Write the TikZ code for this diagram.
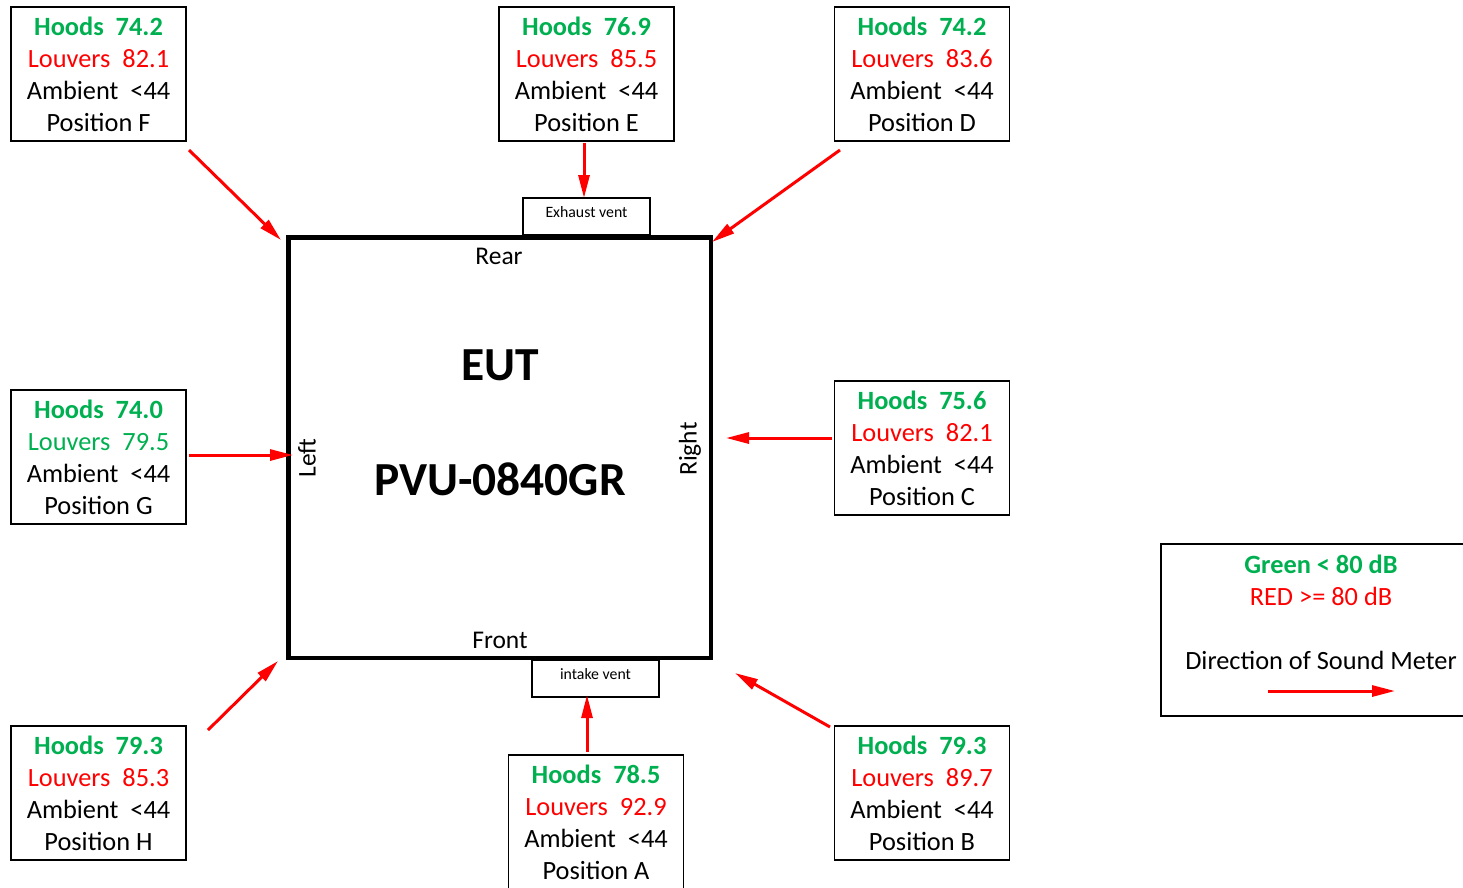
\documentclass[tikz,border=0pt]{standalone}
\usepackage{fontspec}
\setmainfont{Carlito}
\usetikzlibrary{arrows.meta}
\definecolor{figG}{HTML}{00B050}
\definecolor{figR}{HTML}{FF0000}
\newcommand{\reading}[4]{\textbf{\color{figG}Hoods~ #1}\\{\color{#2}Louvers~ #3}\\Ambient~ <44\\Position #4}

\begin{document}
\begin{tikzpicture}[x=0.02cm,y=-0.02cm,>={Triangle[length=0.46cm,width=0.22cm]},
  posbox/.style={draw,line width=0.8pt,minimum width=3.5cm,minimum height=2.68cm,align=center,inner sep=0pt,font=\fontsize{15}{18.2}\selectfont},
  ventbox/.style={draw,line width=0.8pt,minimum width=2.54cm,minimum height=0.74cm,inner sep=0pt,font=\fontsize{9}{11}\selectfont},
  meter/.style={->,figR,line width=1.7pt}]
\useasboundingbox (0,0) rectangle (1463,887);
\node[posbox] (F) at (98.5,74) {\reading{74.2}{figR}{82.1}{F}};
\node[posbox] (E) at (586.5,74) {\reading{76.9}{figR}{85.5}{E}};
\node[posbox] (D) at (922,74) {\reading{74.2}{figR}{83.6}{D}};
\node[posbox] (G) at (98.5,457) {\reading{74.0}{figG}{79.5}{G}};
\node[posbox] (C) at (922,448) {\reading{75.6}{figR}{82.1}{C}};
\node[posbox] (H) at (98.5,793) {\reading{79.3}{figR}{85.3}{H}};
\node[posbox] (A) at (596,822) {\reading{78.5}{figR}{92.9}{A}};
\node[posbox] (B) at (922,793) {\reading{79.3}{figR}{89.7}{B}};
\node[draw,line width=2.8pt,minimum width=8.46cm,minimum height=8.42cm] (eut) at (499.5,447.5) {};
\node[ventbox] (exhaust) at (586.5,216.5) {\raisebox{0.2cm}{Exhaust vent}};
\node[ventbox] (intake) at (595.5,678.5) {\raisebox{0.2cm}{intake vent}};
\node[font=\fontsize{14.5}{17}\selectfont] (rear) at (499,256) {Rear};
\node[font=\fontsize{14.5}{17}\selectfont] (front) at (500,640) {Front};
\node[font=\fontsize{14.5}{17}\selectfont,rotate=90] (left) at (307,458) {Left};
\node[font=\fontsize{14.5}{17}\selectfont,rotate=90] (right) at (690,449) {Right};
\node[font=\fontsize{27}{32}\bfseries] (name) at (500,365) {EUT};
\node[font=\fontsize{27}{32}\bfseries] (model) at (500,479) {PVU-0840GR};
\coordinate (sF) at (189,150); \coordinate (tF) at (281,240);
\coordinate (sE) at (584,143); \coordinate (tE) at (584,198);
\coordinate (sD) at (840,150); \coordinate (tD) at (712,242);
\coordinate (sG) at (189,455); \coordinate (tG) at (293,455);
\coordinate (sC) at (832,438); \coordinate (tC) at (726,438);
\coordinate (sH) at (208,730); \coordinate (tH) at (278,661);
\coordinate (sA) at (587,752); \coordinate (tA) at (587,695);
\coordinate (sB) at (830,727); \coordinate (tB) at (735,673);
\draw[meter] (sF) -- (tF);
\draw[meter] (sE) -- (tE);
\draw[meter] (sD) -- (tD);
\draw[meter] (sG) -- (tG);
\draw[meter] (sC) -- (tC);
\draw[meter] (sH) -- (tH);
\draw[meter] (sA) -- (tA);
\draw[meter] (sB) -- (tB);
\draw[line width=0.8pt] (1161,544) rectangle (1470,716);
\node[font=\fontsize{15}{18}\bfseries,text=figG] (green) at (1321,564) {Green < 80 dB};
\node[font=\fontsize{15}{18}\selectfont,text=figR] (red) at (1321,596) {RED >= 80 dB};
\node[font=\fontsize{15}{18}\selectfont] (dir) at (1321,660) {Direction of Sound Meter};
\coordinate (kS) at (1268,691); \coordinate (kT) at (1395,691);
\draw[meter] (kS) -- (kT);
\end{tikzpicture}
\end{document}
